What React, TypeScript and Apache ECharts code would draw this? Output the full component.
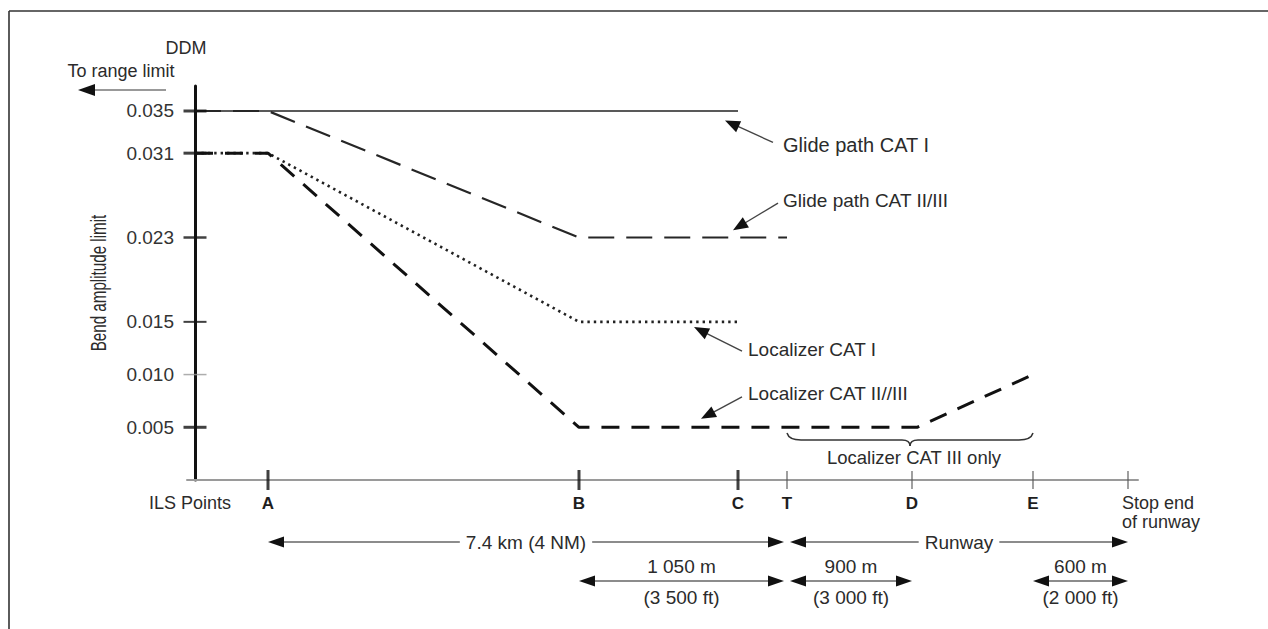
import React, { useEffect, useRef } from "react";
import * as echarts from "echarts";

// ILS points along the approach (schematic positions, the figure is not to scale)
const pointNames = ["A", "B", "C", "T", "D", "E", "Stop"];
const pointPos = [73, 384, 543, 592, 717, 838, 933];
const labelledPoints = ["A", "B", "C", "T", "D", "E"];
const majorTickPoints = ["A", "B", "C"];
const minorTickPoints = ["T", "D", "E", "Stop"];

// DDM tick values on the vertical axis
const yTickValues = [0.035, 0.031, 0.023, 0.015, 0.01, 0.005];
const yTickWeights = [3, 3, 2.5, 2, 1.5, 3];

// Bend amplitude limits: [position along approach, DDM]
const glidePathCat1 = [[0, 0.035], [543, 0.035]];
const glidePathCat23 = [[0, 0.035], [73, 0.035], [384, 0.023], [592, 0.023]];
const localizerCat1 = [[0, 0.031], [73, 0.031], [384, 0.015], [543, 0.015]];
const localizerCat23 = [[0, 0.031], [73, 0.031], [384, 0.005], [722, 0.005], [838, 0.01]];

// Curve call-outs: text and the data point the arrow points at
const callouts = [
  { text: "Glide path CAT I", tip: [530, 0.0341], tail: [48, 22], textOff: [10, 3], size: 20 },
  { text: "Glide path CAT II/III", tip: [538, 0.0237], tail: [45, -27], textOff: [5, -3], size: 19 },
  { text: "Localizer CAT I", tip: [499, 0.0145], tail: [48, 24], textOff: [6, -2], size: 19 },
  { text: "Localizer CAT II//III", tip: [506, 0.0058], tail: [41, -22], textOff: [6, -3], size: 19 },
];

// Distance dimension lines between ILS points
const dimensions = [
  { from: "A", to: "T", row: 0, label: "7.4 km (4 NM)" },
  { from: "T", to: "Stop", row: 0, label: "Runway" },
  { from: "B", to: "T", row: 1, top: "1 050 m", bottom: "(3 500 ft)" },
  { from: "T", to: "D", row: 1, top: "900 m", bottom: "(3 000 ft)" },
  { from: "E", to: "Stop", row: 1, top: "600 m", bottom: "(2 000 ft)" },
];

const FONT = '"Liberation Sans", Arial, Helvetica, sans-serif';
const TXT = "#2b2b2b";

const pos = (name: string) => pointPos[pointNames.indexOf(name)];

function arrowHead(tipX: number, tipY: number, fromX: number, fromY: number, len: number, hw: number, color: string) {
  const a = Math.atan2(tipY - fromY, tipX - fromX);
  const bx = tipX - len * Math.cos(a);
  const by = tipY - len * Math.sin(a);
  const px = -Math.sin(a) * hw;
  const py = Math.cos(a) * hw;
  return {
    type: "polygon",
    silent: true,
    shape: { points: [[tipX, tipY], [bx + px, by + py], [bx - px, by - py]] },
    style: { fill: color },
  };
}

function line(x1: number, y1: number, x2: number, y2: number, stroke: string, lineWidth: number) {
  return { type: "line", silent: true, shape: { x1, y1, x2, y2 }, style: { stroke, lineWidth } };
}

function text(x: number, y: number, t: string, opts: any = {}) {
  return {
    type: "text",
    silent: true,
    x,
    y,
    ...(opts.el || {}),
    style: {
      text: t,
      fill: TXT,
      font: `${opts.weight || "normal"} ${opts.size || 18}px ${FONT}`,
      align: opts.align || "left",
      verticalAlign: opts.vAlign || "middle",
      ...(opts.style || {}),
    },
  };
}

export default function App() {
  const ref = useRef<HTMLDivElement>(null);

  useEffect(() => {
    if (!ref.current) return;
    const chart = echarts.init(ref.current, null, { renderer: "svg" });

    const lineSeries = (name: string, data: number[][], width: number, type: any, color: string) => ({
      name,
      type: "line",
      data,
      symbol: "none",
      silent: true,
      clip: false,
      lineStyle: { width, type, color, cap: "butt" },
      z: 3,
    });

    const option: any = {
      animation: false,
      backgroundColor: "#ffffff",
      grid: { left: 187, right: 130, top: 86, bottom: 149 },
      xAxis: {
        type: "value",
        min: -8,
        max: 943,
        splitLine: { show: false },
        axisTick: { show: false },
        axisLine: { show: true, onZero: false, lineStyle: { color: "#9a9a9a", width: 2 } },
        axisLabel: {
          customValues: labelledPoints.map(pos),
          formatter: (v: number) => pointNames[pointPos.indexOf(v)] || "",
          fontFamily: FONT,
          fontWeight: "bold",
          fontSize: 17,
          color: "#1e1e1e",
          margin: 15,
        },
      },
      yAxis: {
        type: "value",
        min: 0,
        max: 0.03737,
        splitLine: { show: false },
        axisTick: { show: false },
        axisLine: { show: true, onZero: true, lineStyle: { color: "#111", width: 3 } },
        axisLabel: {
          customValues: yTickValues,
          formatter: (v: number) => v.toFixed(3),
          fontFamily: FONT,
          fontSize: 19,
          color: "#333",
          margin: 13,
        },
      },
      series: [
        lineSeries("Glide path CAT I", glidePathCat1, 1.6, "solid", "#222"),
        lineSeries("Glide path CAT II/III", glidePathCat23, 2.2, [26, 12], "#262626"),
        lineSeries("Localizer CAT I", localizerCat1, 2.6, [2.4, 4], "#222"),
        lineSeries("Localizer CAT II/III", localizerCat23, 3, [18, 12], "#111"),
        {
          name: "x ticks major",
          type: "scatter",
          silent: true,
          clip: false,
          symbol: "rect",
          symbolSize: [3, 20],
          itemStyle: { color: "#111" },
          data: majorTickPoints.map((n) => [pos(n), 0]),
          z: 4,
        },
        {
          name: "x ticks minor",
          type: "scatter",
          silent: true,
          clip: false,
          symbol: "rect",
          symbolSize: [1.4, 18],
          itemStyle: { color: "#555" },
          data: minorTickPoints.map((n) => [pos(n), 0]),
          z: 4,
        },
        {
          name: "y ticks",
          type: "scatter",
          silent: true,
          clip: false,
          symbol: "rect",
          data: yTickValues.map((v, i) => ({
            value: [0, v],
            symbolSize: [23, yTickWeights[i]],
            itemStyle: { color: v === 0.01 ? "#999" : "#111" },
          })),
          z: 4,
        },
      ],
    };

    chart.setOption(option);

    const P = (x: number, y: number) => chart.convertToPixel({ gridIndex: 0 }, [x, y]) as number[];
    const origin = P(0, 0);
    const baseY = origin[1];

    const g: any[] = [];

    // frame (left and top edges of the figure box)
    g.push(line(9, 11, 1275, 11, "#333", 1.6));
    g.push(line(9, 11, 9, 640, "#333", 1.6));

    // header of the vertical axis
    g.push(text(origin[0] - 9, 48, "DDM", { align: "center", size: 18 }));
    g.push(text(origin[0] - 74, 71, "To range limit", { align: "center", size: 18 }));
    g.push(line(origin[0] - 29, 90, origin[0] - 105, 90, "#777", 1.5));
    g.push(arrowHead(origin[0] - 117, 90, origin[0] - 29, 90, 17, 6, "#111"));
    g.push(
      text(98, 283, "Bend amplitude limit", {
        align: "center",
        size: 22,
        el: { rotation: Math.PI / 2, scaleX: 0.69 },
      })
    );

    // x axis captions
    g.push(text(190, baseY + 23, "ILS Points", { align: "center", size: 18 }));
    const stopX = P(pos("Stop"), 0)[0];
    g.push(text(stopX - 6, baseY + 23, "Stop end", { size: 18 }));
    g.push(text(stopX - 6, baseY + 42, "of runway", { size: 18 }));

    // call-outs
    callouts.forEach((c) => {
      const [tx, ty] = P(c.tip[0], c.tip[1]);
      const lx = tx + c.tail[0];
      const ly = ty + c.tail[1];
      const a = Math.atan2(c.tail[1], c.tail[0]);
      g.push(line(lx, ly, tx + 10 * Math.cos(a), ty + 10 * Math.sin(a), "#444", 1.4));
      g.push(arrowHead(tx, ty, lx, ly, 15, 6, "#111"));
      g.push(text(lx + c.textOff[0], ly + c.textOff[1], c.text, { size: c.size }));
    });

    // brace under "Localizer CAT III only"
    const bx1 = P(pos("T"), 0)[0];
    const bx2 = P(pos("E"), 0)[0];
    const bm = (bx1 + bx2) / 2;
    const byTop = baseY - 47;
    const byMid = baseY - 40;
    const byTip = baseY - 34;
    const brace = (shape: any) => ({ type: "bezierCurve", silent: true, shape, style: { stroke: "#333", lineWidth: 1.5, fill: "none" } });
    g.push(brace({ x1: bx1, y1: byTop, cpx1: bx1 + 2, cpy1: byMid, x2: bx1 + 14, y2: byMid }));
    g.push(line(bx1 + 14, byMid, bm - 8, byMid, "#333", 1.5));
    g.push(brace({ x1: bm - 8, y1: byMid, cpx1: bm, cpy1: byMid, x2: bm, y2: byTip }));
    g.push(brace({ x1: bm, y1: byTip, cpx1: bm, cpy1: byMid, x2: bm + 8, y2: byMid }));
    g.push(line(bm + 8, byMid, bx2 - 14, byMid, "#333", 1.5));
    g.push(brace({ x1: bx2 - 14, y1: byMid, cpx1: bx2 - 2, cpy1: byMid, x2: bx2, y2: byTop }));
    g.push(text(bm + 4, baseY - 23, "Localizer CAT III only", { align: "center", size: 18.5 }));

    // dimension lines
    const rowY = [baseY + 62, baseY + 101];
    dimensions.forEach((d) => {
      const inset1 = d.from === "T" ? 3 : 0;
      const inset2 = d.to === "T" ? 3 : 0;
      const x1 = P(pos(d.from), 0)[0] + inset1;
      const x2 = P(pos(d.to), 0)[0] - inset2;
      const y = rowY[d.row];
      const L = 16;
      g.push(line(x1 + L - 2, y, x2 - L + 2, y, "#666", 1.5));
      g.push(arrowHead(x1, y, x2, y, L, 5.5, "#111"));
      g.push(arrowHead(x2, y, x1, y, L, 5.5, "#111"));
      const cx = (x1 + x2) / 2;
      if (d.label) {
        g.push(text(cx, y, d.label, { align: "center", size: 19, style: { backgroundColor: "#fff", padding: [0, 6] } }));
      }
      if (d.top) g.push(text(cx, y - 15, d.top, { align: "center", size: 19 }));
      if (d.bottom) g.push(text(cx, y + 16, d.bottom, { align: "center", size: 19 }));
    });

    chart.setOption({ graphic: { elements: g } });

    return () => chart.dispose();
  }, []);

  return (
    <div
      ref={ref}
      style={{ position: "fixed", left: 0, top: 0, width: 1268, height: 629, background: "#fff" }}
    />
  );
}
